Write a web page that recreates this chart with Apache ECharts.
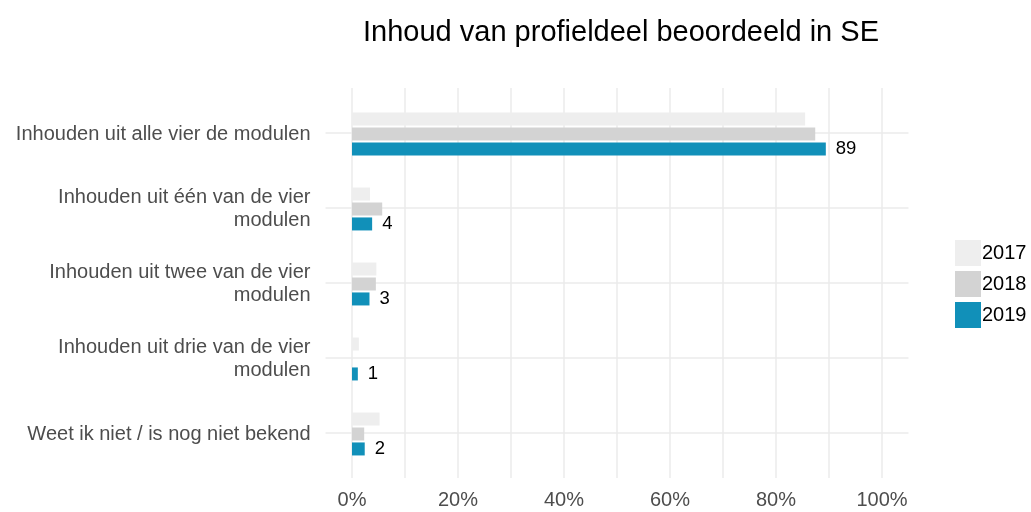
<!DOCTYPE html>
<html>
<head>
<meta charset="utf-8">
<script src="https://cdn.jsdelivr.net/npm/echarts@6/dist/echarts.min.js"></script>
<style>
  html, body { margin: 0; padding: 0; background: #fff; }
  #chart { width: 1031px; height: 512px; }
</style>
</head>
<body>
<div id="chart"></div>
<script>
var categories = [
  'Inhouden uit alle vier de modulen',
  'Inhouden uit één van de vier\nmodulen',
  'Inhouden uit twee van de vier\nmodulen',
  'Inhouden uit drie van de vier\nmodulen',
  'Weet ik niet / is nog niet bekend'
];
var years = ['2017', '2018', '2019'];
var values2017 = [85.5, 3.4, 4.6, 1.3, 5.2];
var values2018 = [87.4, 5.7, 4.5, 0, 2.3];
var values2019 = [89.4, 3.8, 3.3, 1.1, 2.4];
var colors = ['#eeeeee', '#d3d3d3', '#1190b9'];
var xTicks = [0, 20, 40, 60, 80, 100];

var font = 'Liberation Sans, Arial, sans-serif';

function barSeries(name, data, color, withLabel) {
  return {
    name: name,
    type: 'bar',
    xAxisIndex: 0,
    yAxisIndex: 0,
    data: data,
    barWidth: 13,
    barGap: '15%',
    itemStyle: { color: color },
    label: {
      show: withLabel,
      position: 'right',
      distance: 10,
      fontFamily: font,
      fontSize: 18.5,
      color: '#000',
      formatter: function (p) { return Math.round(p.value); }
    }
  };
}

var hidden = {
  axisLine: { show: false }, axisTick: { show: false },
  axisLabel: { show: false }, splitLine: { show: false }
};
var gridLine = { show: true, lineStyle: { color: '#ebebeb', width: 1.5 } };

var myChart = echarts.init(document.getElementById('chart'));
myChart.setOption({
  backgroundColor: '#fff',
  animation: false,
  title: {
    text: 'Inhoud van profieldeel beoordeeld in SE',
    left: 616,
    top: 13,
    textAlign: 'center',
    textStyle: { fontFamily: font, fontSize: 29, fontWeight: 'normal', color: '#000' }
  },
  legend: {
    data: years,
    orient: 'vertical',
    left: 950,
    top: 235,
    itemWidth: 26,
    itemHeight: 26,
    itemGap: 5,
    icon: 'rect',
    textStyle: { fontFamily: font, fontSize: 20, color: '#000', padding: [0, 0, 0, -4] }
  },
  grid: [
    // bars
    { left: 325.5, right: 122.5, top: 96.5, bottom: 40.5 },
    // vertical grid lines + x labels
    { left: 352, right: 149, top: 88, bottom: 34 },
    // horizontal grid lines at category centres
    { left: 325.5, right: 122.5, top: 133, bottom: 79 }
  ],
  xAxis: [
    Object.assign({ gridIndex: 0, type: 'value', min: -5, max: 105 }, hidden),
    {
      gridIndex: 1, type: 'value', min: 0, max: 100, interval: 10,
      axisLine: { show: false }, axisTick: { show: false },
      splitLine: gridLine,
      axisLabel: {
        margin: 12,
        fontFamily: font, fontSize: 20, color: '#4d4d4d',
        formatter: function (v) { return xTicks.indexOf(v) >= 0 ? v + '%' : ''; }
      }
    },
    Object.assign({ gridIndex: 2, type: 'value', min: 0, max: 1 }, hidden)
  ],
  yAxis: [
    {
      gridIndex: 0, type: 'category', data: categories, inverse: true,
      axisLine: { show: false }, axisTick: { show: false },
      splitLine: { show: false },
      axisLabel: {
        margin: 15, fontFamily: font, fontSize: 20, color: '#4d4d4d',
        lineHeight: 23, align: 'right'
      }
    },
    Object.assign({ gridIndex: 1, type: 'value', min: 0, max: 1 }, hidden),
    {
      gridIndex: 2, type: 'value', min: 0, max: 4, interval: 1,
      axisLine: { show: false }, axisTick: { show: false },
      axisLabel: { show: false }, splitLine: gridLine
    }
  ],
  series: [
    barSeries('2017', values2017, colors[0], false),
    barSeries('2018', values2018, colors[1], false),
    barSeries('2019', values2019, colors[2], true)
  ]
});
</script>
</body>
</html>
